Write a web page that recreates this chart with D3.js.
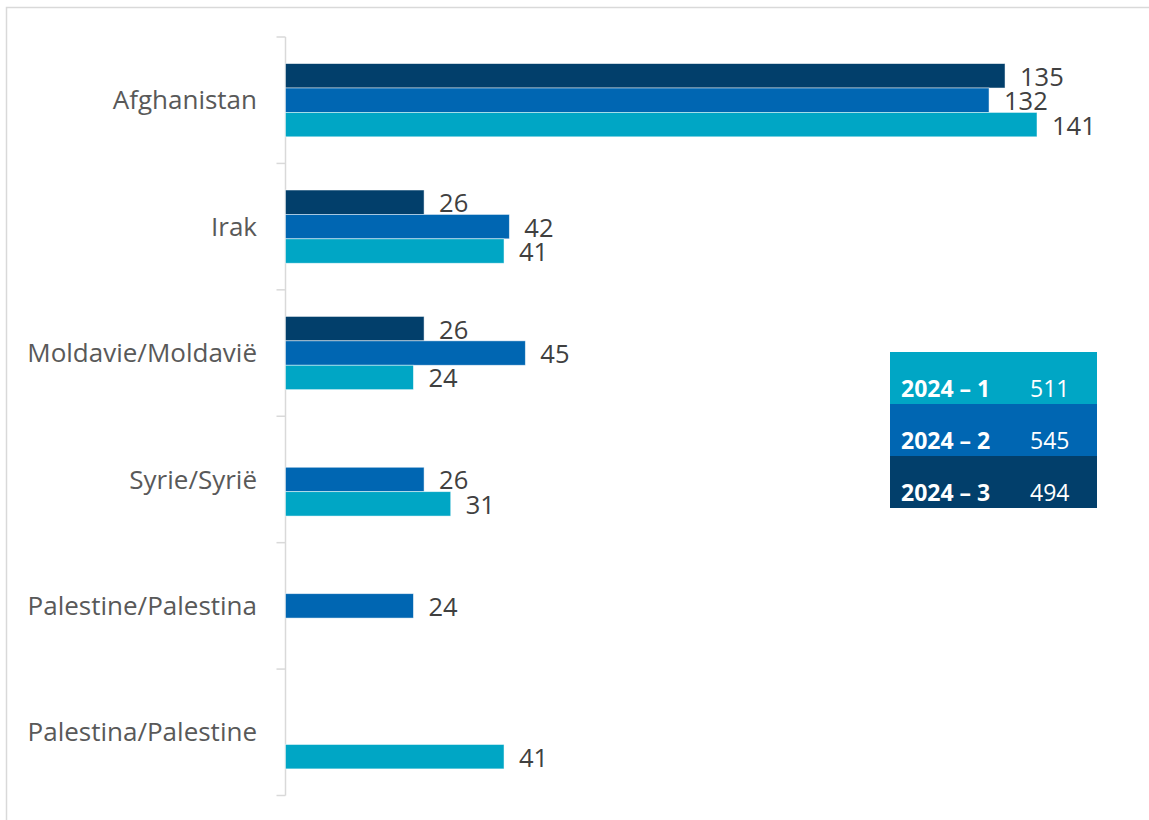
<!DOCTYPE html>
<html>
<head>
<meta charset="utf-8">
<script src="https://cdn.jsdelivr.net/npm/d3@7"></script>
<style>
  html, body { margin: 0; padding: 0; background: #fff; }
  svg { display: block; }
</style>
</head>
<body>
<svg id="chart" width="1149" height="820"></svg>
<script>
// Country of origin, per quarter
const categories = ["Afghanistan", "Irak", "Moldavie/Moldavië", "Syrie/Syrië", "Palestine/Palestina", "Palestina/Palestine"];
const seriesNames = ["2024 – 3", "2024 – 2", "2024 – 1"];
const q3Values = [135, 26, 26, null, null, null];
const q2Values = [132, 42, 45, 26, 24, null];
const q1Values = [141, 41, 24, 31, null, 41];
const seriesColors = ["#023f6b", "#0066b2", "#00a6c5"];
// Legend table: quarter totals (top row first)
const legendNames = ["2024 – 1", "2024 – 2", "2024 – 3"];
const legendTotals = [511, 545, 494];
const legendColors = ["#00a6c5", "#0066b2", "#023f6b"];

const seriesValues = [q3Values, q2Values, q1Values];

const svg = d3.select("#chart");

// frame
svg.append("path")
  .attr("d", "M6.5,830 V7.5 H1160")
  .attr("fill", "none")
  .attr("stroke", "#d9d9d9")
  .attr("stroke-width", 1.5);

const axisX = 285.5;
const y = d3.scaleBand().domain(categories).range([37, 795.5]);
const inner = d3.scaleBand().domain(seriesNames).range([0, y.bandwidth()]).paddingOuter(1.09).paddingInner(0);
const x = d3.scaleLinear().domain([0, 141]).range([axisX, 1037]);

// category axis with ticks at band boundaries
const axisG = svg.append("g");
axisG.append("line")
  .attr("x1", axisX).attr("x2", axisX)
  .attr("y1", y.range()[0]).attr("y2", y.range()[1])
  .attr("stroke", "#d9d9d9").attr("stroke-width", 1.5);
const boundaries = categories.map(c => y(c)).concat([y.range()[1]]);
axisG.selectAll("line.tick").data(boundaries).join("line")
  .attr("class", "tick")
  .attr("x1", axisX - 9).attr("x2", axisX)
  .attr("y1", d => d).attr("y2", d => d)
  .attr("stroke", "#d9d9d9").attr("stroke-width", 1.5);

axisG.selectAll("text.cat").data(categories).join("text")
  .attr("class", "cat")
  .attr("x", 257)
  .attr("y", d => y(d) + y.bandwidth() / 2)
  .attr("dy", "0.35em")
  .attr("text-anchor", "end")
  .attr("font-family", "'Open Sans', sans-serif")
  .attr("font-size", 26)
  .attr("fill", "#595959")
  .attr("textLength", null)
  .text(d => d);

// bars
const rows = [];
seriesNames.forEach((s, si) => {
  categories.forEach((c, ci) => {
    const v = seriesValues[si][ci];
    if (v != null) rows.push({ s, si, c, v });
  });
});

svg.append("g").selectAll("rect").data(rows).join("rect")
  .attr("x", x(0))
  .attr("y", d => y(d.c) + inner(d.s))
  .attr("width", d => x(d.v) - x(0))
  .attr("height", inner.bandwidth())
  .attr("fill", d => seriesColors[d.si])
  .attr("stroke", "#ffffff")
  .attr("stroke-opacity", 0.6)
  .attr("stroke-width", 0.8);

svg.append("g").selectAll("text").data(rows).join("text")
  .attr("x", d => x(d.v) + 15)
  .attr("y", d => y(d.c) + inner(d.s) + inner.bandwidth() / 2 + 1)
  .attr("dy", "0.35em")
  .attr("font-family", "'Open Sans', sans-serif")
  .attr("font-size", 25.5)
  .attr("fill", "#404040")
  .text(d => d.v);

// legend table
const lg = svg.append("g").attr("transform", "translate(890,352)");
const rowH = 52;
legendNames.forEach((n, i) => {
  const g = lg.append("g").attr("transform", `translate(0,${i * rowH})`);
  g.append("rect").attr("width", 207).attr("height", rowH).attr("fill", legendColors[i]);
  g.append("text")
    .attr("x", 11).attr("y", 45)
    .attr("font-family", "'Open Sans', sans-serif")
    .attr("font-weight", "bold")
    .attr("font-size", 23)
    .attr("fill", "#ffffff")
    .text(n);
  g.append("text")
    .attr("x", 140).attr("y", 45)
    .attr("font-family", "'Open Sans', sans-serif")
    .attr("font-size", 23)
    .attr("fill", "#ffffff")
    .text(legendTotals[i]);
});
</script>
</body>
</html>
